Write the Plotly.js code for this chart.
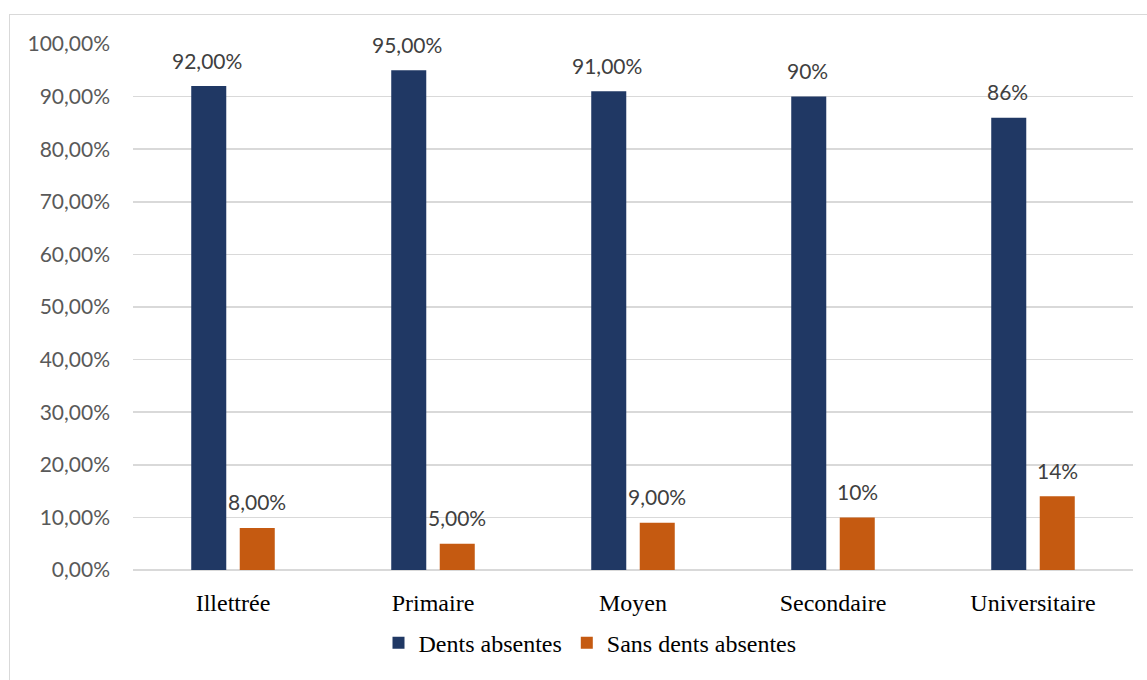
<!DOCTYPE html>
<html><head><meta charset="utf-8">
<script src="https://cdn.plot.ly/plotly-3.0.1.min.js"></script>
<style>
html,body{margin:0;padding:0;background:#fff;overflow:hidden;}
#chart{position:absolute;left:0;top:0;width:1147px;height:680px;}
#frame{position:absolute;left:9px;top:14px;width:1160px;height:700px;border:1.5px solid #d9d9d9;pointer-events:none;}
</style></head>
<body>
<div id="chart"></div>
<div id="frame"></div>
<script>
const categories = ["Illettrée", "Primaire", "Moyen", "Secondaire", "Universitaire"];
const dentsAbsentes = [0.92, 0.95, 0.91, 0.90, 0.86];
const sansDentsAbsentes = [0.08, 0.05, 0.09, 0.10, 0.14];
const labelsDents = ["92,00%", "95,00%", "91,00%", "90%", "86%"];
const labelsSans = ["8,00%", "5,00%", "9,00%", "10%", "14%"];
const seriesNames = ["Dents absentes", "Sans dents absentes"];

const traces = [
  {type:'bar', name:seriesNames[0], x:categories, y:dentsAbsentes, marker:{color:'#203864'}, hoverinfo:'none'},
  {type:'bar', name:seriesNames[1], x:categories, y:sansDentsAbsentes, marker:{color:'#C55A11'}, hoverinfo:'none'}
];

const annFont = {family:'Lato, "Open Sans", sans-serif', size:21, color:'#404040'};
const annotations = [];
categories.forEach((c,i)=>{
  annotations.push({x:c, y:dentsAbsentes[i], text:labelsDents[i], showarrow:false, xref:'x', yref:'y', xshift:-26, yshift:26, font:annFont});
  annotations.push({x:c, y:sansDentsAbsentes[i], text:labelsSans[i], showarrow:false, xref:'x', yref:'y', xshift:24, yshift:26, font:annFont});
});

const serif = '"Liberation Serif", "Times New Roman", serif';
const layout = {
  width:1147, height:680,
  margin:{l:133, r:14, t:44, b:110},
  paper_bgcolor:'rgba(0,0,0,0)', plot_bgcolor:'rgba(0,0,0,0)',
  separators:',.',
  barmode:'group', bargap:0.515, bargroupgap:0.278,
  showlegend:true,
  legend:{orientation:'h', x:0.457, xanchor:'center', y:-0.139, yanchor:'middle',
          font:{family:serif, size:24, color:'#000'},
          itemwidth:30, tracegroupgap:0},
  xaxis:{type:'category', showgrid:false, zeroline:false, showline:false,
         ticks:'', ticklabelstandoff:16,
         tickfont:{family:serif, size:24, color:'#000'}},
  yaxis:{range:[0,1], dtick:0.1, tickformat:'.2%', showgrid:true, gridcolor:'#d9d9d9', gridwidth:1.5,
         zeroline:true, zerolinecolor:'#d9d9d9', zerolinewidth:1.5, showline:false, ticks:'',
         ticklabelstandoff:22,
         tickfont:{family:'Lato, "Open Sans", sans-serif', size:21, color:'#595959'}},
  annotations:annotations
};
Plotly.newPlot('chart', traces, layout, {displayModeBar:false, staticPlot:true});
</script>
</body></html>
